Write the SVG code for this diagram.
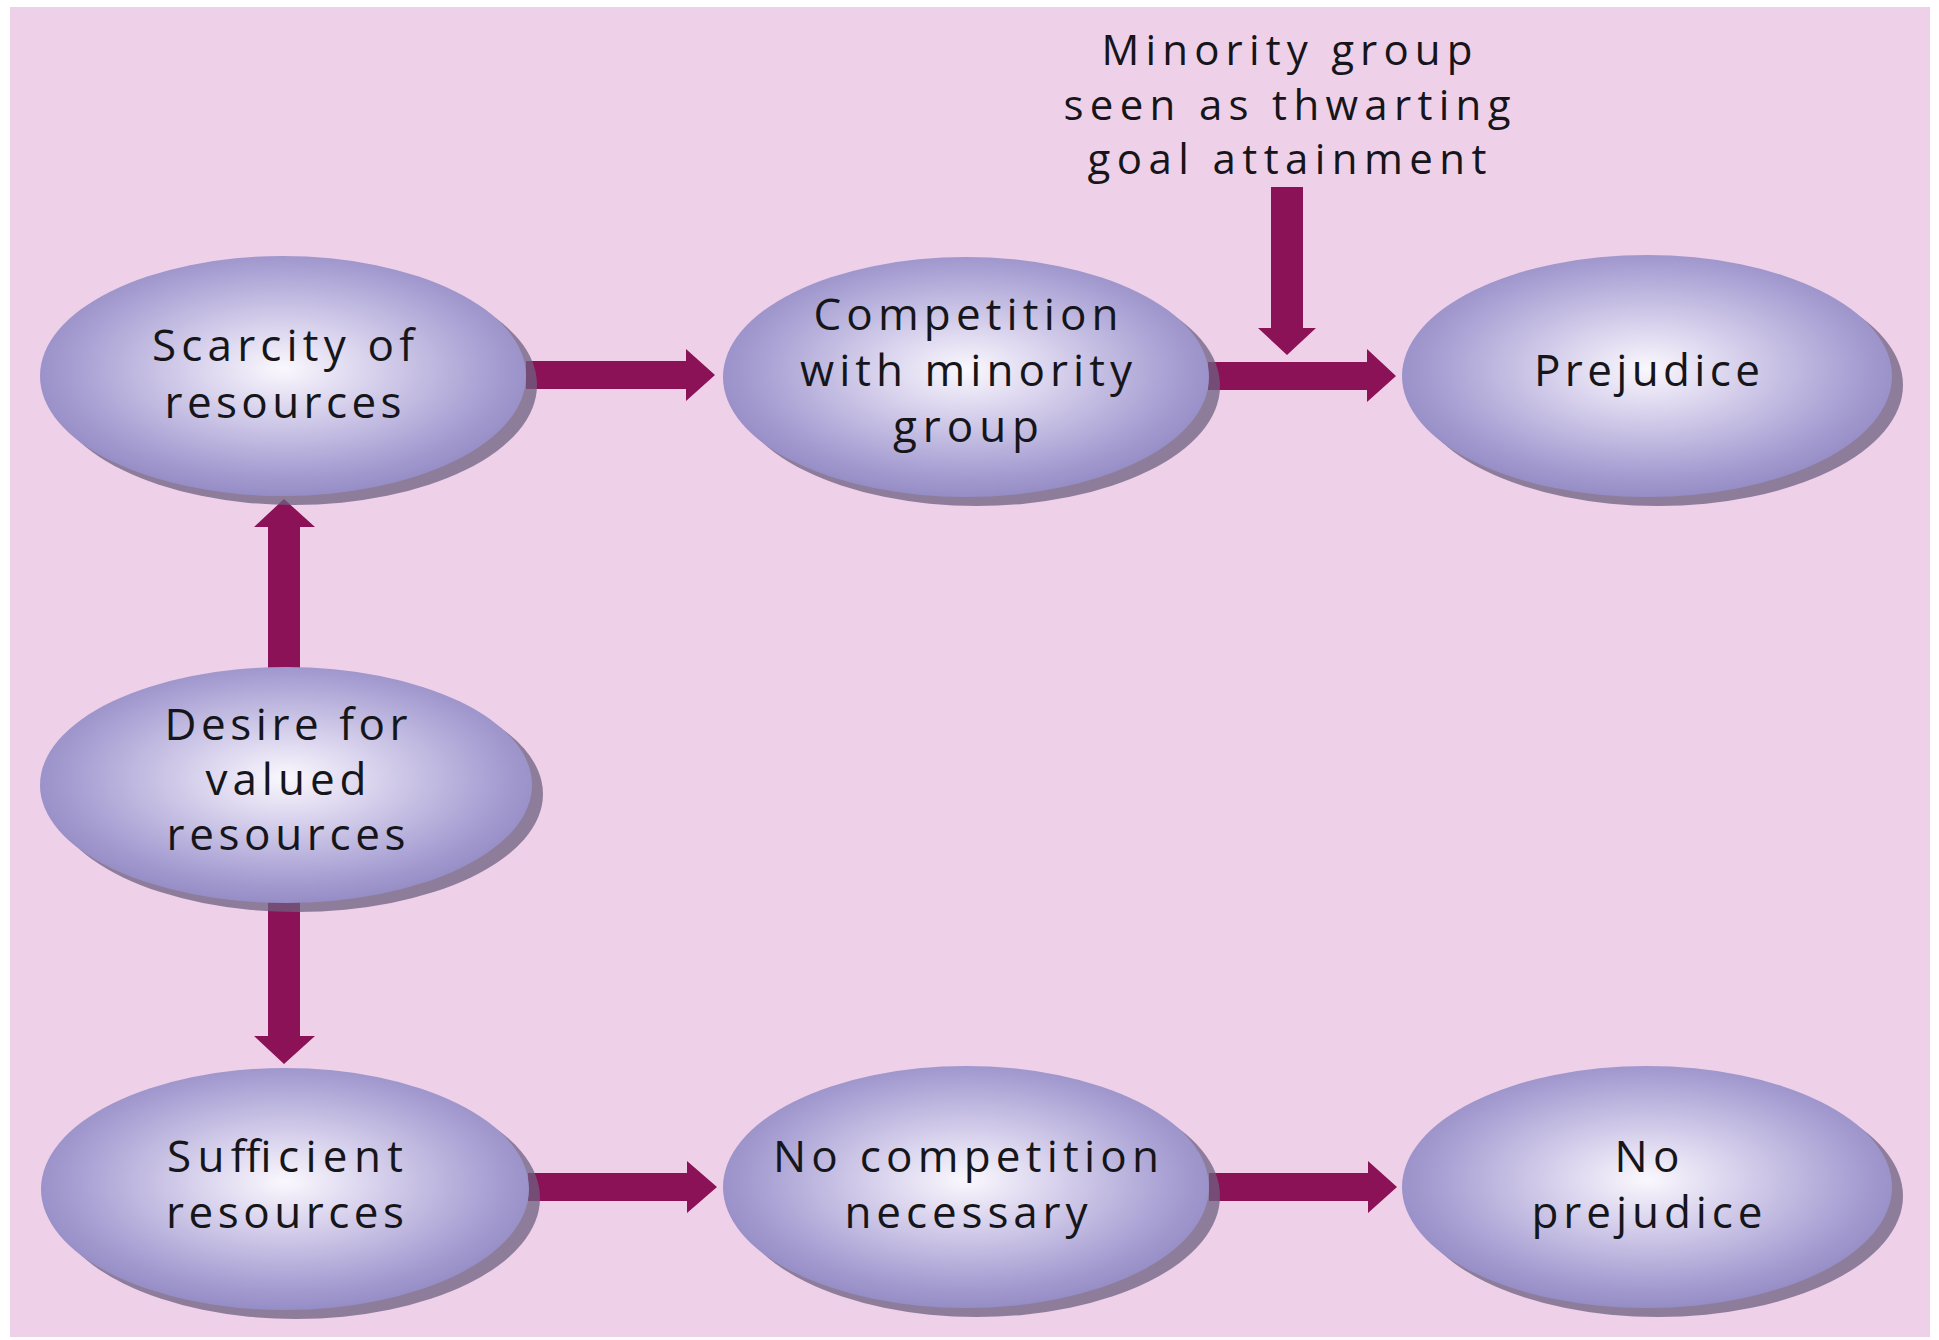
<svg xmlns="http://www.w3.org/2000/svg" width="1939" height="1340" viewBox="0 0 1939 1340">
<style>
.bg{fill:#efd0e9}
.sh{fill:#6e6080;opacity:0.75}
.el{fill:url(#g)}
.arr{fill:#8c1257}
.t{font-family:"Open Sans","DejaVu Sans",sans-serif;font-size:44px;fill:#16161a;text-anchor:middle}
.lb{font-size:42px}
</style>
<defs>
<radialGradient id="g" cx="50%" cy="47%" r="55%">
<stop offset="0" stop-color="#faf8fd"/>
<stop offset="0.35" stop-color="#d6d0ec"/>
<stop offset="0.75" stop-color="#aaa2d4"/>
<stop offset="1" stop-color="#9189c2"/>
</radialGradient>
</defs>
<rect x="0" y="0" width="1939" height="1340" fill="#ffffff"/>
<rect class="bg" x="10" y="7" width="1920" height="1330"/>

<g id="connectors">
<polygon class="arr" points="526,361 686,361 686,349 715,375 686,401 686,389 526,389"/>
<polygon class="arr" points="1208,362 1367,362 1367,349 1396,376 1367,402 1367,390 1208,390"/>
<polygon class="arr" points="528,1173 687,1173 687,1161 717,1187 687,1213 687,1201 528,1201"/>
<polygon class="arr" points="1209,1173 1368,1173 1368,1161 1397,1187 1368,1213 1368,1201 1209,1201"/>
<polygon class="arr" points="268,670 268,527 254,527 284,499 315,527 300,527 300,670"/>
<polygon class="arr" points="268,900 268,1036 254,1036 284,1064 315,1036 300,1036 300,900"/>
<polygon class="arr" points="1271,187 1271,328 1258,328 1287,355 1316,328 1303,328 1303,187"/>
</g>

<g id="n-scarcity">
<ellipse class="sh" cx="294" cy="385" rx="243" ry="120"/>
<ellipse class="el" cx="283" cy="376" rx="243" ry="120"/>
<text class="t" x="283" y="361" textLength="262" lengthAdjust="spacing">Scarcity of</text>
<text class="t" x="283" y="418" textLength="237" lengthAdjust="spacing">resources</text>
</g>

<g id="n-competition">
<ellipse class="sh" cx="977" cy="386" rx="243" ry="120"/>
<ellipse class="el" cx="966" cy="377" rx="243" ry="120"/>
<text class="t" x="966" y="330" textLength="305" lengthAdjust="spacing">Competition</text>
<text class="t" x="966" y="386" textLength="332" lengthAdjust="spacing">with minority</text>
<text class="t" x="966" y="442" textLength="146" lengthAdjust="spacing">group</text>
</g>

<g id="n-prejudice">
<ellipse class="sh" cx="1658" cy="385" rx="245" ry="121"/>
<ellipse class="el" cx="1647" cy="376" rx="245" ry="121"/>
<text class="t" x="1647" y="386" textLength="226" lengthAdjust="spacing">Prejudice</text>
</g>

<g id="n-minority">
<text class="t lb" x="1287" y="65" textLength="371" lengthAdjust="spacing">Minority group</text>
<text class="t lb" x="1287" y="120" textLength="447" lengthAdjust="spacing">seen as thwarting</text>
<text class="t lb" x="1287" y="174" textLength="399" lengthAdjust="spacing">goal attainment</text>
</g>

<g id="n-desire">
<ellipse class="sh" cx="297" cy="794" rx="246" ry="118"/>
<ellipse class="el" cx="286" cy="785" rx="246" ry="118"/>
<text class="t" x="286" y="740" textLength="243" lengthAdjust="spacing">Desire for</text>
<text class="t" x="286" y="795" textLength="161" lengthAdjust="spacing">valued</text>
<text class="t" x="286" y="850" textLength="239" lengthAdjust="spacing">resources</text>
</g>

<g id="n-sufficient">
<ellipse class="sh" cx="296" cy="1198" rx="244" ry="121"/>
<ellipse class="el" cx="285" cy="1189" rx="244" ry="121"/>
<text class="t" x="285" y="1172" textLength="236" lengthAdjust="spacing">Sufficient</text>
<text class="t" x="285" y="1228" textLength="238" lengthAdjust="spacing">resources</text>
</g>

<g id="n-nocompetition">
<ellipse class="sh" cx="977" cy="1196" rx="243" ry="121"/>
<ellipse class="el" cx="966" cy="1187" rx="243" ry="121"/>
<text class="t" x="966" y="1172" textLength="386" lengthAdjust="spacing">No competition</text>
<text class="t" x="966" y="1228" textLength="243" lengthAdjust="spacing">necessary</text>
</g>

<g id="n-noprejudice">
<ellipse class="sh" cx="1658" cy="1196" rx="245" ry="121"/>
<ellipse class="el" cx="1647" cy="1187" rx="245" ry="121"/>
<text class="t" x="1647" y="1172" textLength="65" lengthAdjust="spacing">No</text>
<text class="t" x="1647" y="1228" textLength="231" lengthAdjust="spacing">prejudice</text>
</g>
</svg>
